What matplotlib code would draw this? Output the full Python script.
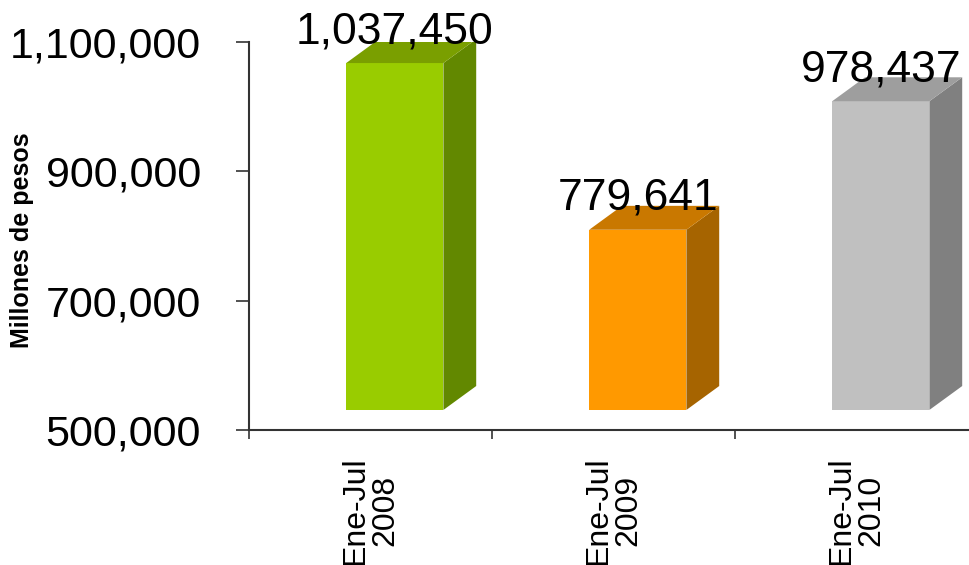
import matplotlib.pyplot as plt
from matplotlib.ticker import FuncFormatter

plt.rcParams["font.family"] = ["Liberation Sans", "DejaVu Sans"]

categories = ["Ene-Jul\n2008", "Ene-Jul\n2009", "Ene-Jul\n2010"]
values = [1037450, 779641, 978437]
front_colors = ["#99CC00", "#FF9900", "#C0C0C0"]
side_colors = ["#628800", "#A66400", "#808080"]
top_colors = ["#7A9F00", "#C97800", "#9E9E9E"]
y_ticks = [500000, 700000, 900000, 1100000]

# pseudo-3D geometry (Excel style)
BAR_START = 0.40
BAR_WIDTH = 0.40
DEPTH_X = 0.135
DEPTH_Y = 37000
FLOOR = 531000
FRONT_LIFT = 30000
LABEL_LIFT = 31000

fig = plt.figure(figsize=(9.7, 5.65), dpi=100)
ax = fig.add_axes([249 / 970, 135 / 565, 729 / 970, 388 / 565])

for i, v in enumerate(values):
    x0 = i + BAR_START
    x1 = x0 + BAR_WIDTH
    top = v + FRONT_LIFT
    ax.fill([x0, x1, x1, x0], [FLOOR, FLOOR, top, top], color=front_colors[i], lw=0)
    ax.fill([x1, x1 + DEPTH_X, x1 + DEPTH_X, x1],
            [FLOOR, FLOOR + DEPTH_Y, top + DEPTH_Y, top],
            color=side_colors[i], lw=0)
    ax.fill([x0, x1, x1 + DEPTH_X, x0 + DEPTH_X],
            [top, top, top + DEPTH_Y, top + DEPTH_Y],
            color=top_colors[i], lw=0)
    ax.text(x0 + BAR_WIDTH / 2, top + LABEL_LIFT, f"{v:,}",
            ha="center", va="baseline", fontsize=32, clip_on=False)

ax.set_xlim(0, len(categories))
ax.set_ylim(y_ticks[0], y_ticks[-1])

ax.set_yticks(y_ticks)
ax.yaxis.set_major_formatter(FuncFormatter(lambda v, p: f"{int(v):,}"))
ax.tick_params(axis="y", length=9.5, width=1.2, pad=25, labelsize=31, color="#333333")

ax.set_xticks(range(len(categories) + 1))
ax.set_xticklabels([])
ax.set_xticks([i + 0.5 for i in range(len(categories))], minor=True)
ax.set_xticklabels(categories, minor=True, rotation=90, fontsize=23,
                   ha="center", va="top", linespacing=1.02)
ax.tick_params(axis="x", which="major", length=6.5, width=1.2, color="#333333")
ax.tick_params(axis="x", which="minor", length=0, pad=19)

for side in ["top", "right"]:
    ax.spines[side].set_visible(False)
for side in ["left", "bottom"]:
    ax.spines[side].set_color("#333333")
    ax.spines[side].set_linewidth(1.5)

fig.text(22 / 970, 1 - 240 / 565, "Millones de pesos", rotation=90,
         ha="center", va="center", fontsize=18, fontweight="bold")

fig.savefig("out.png", dpi=100)
